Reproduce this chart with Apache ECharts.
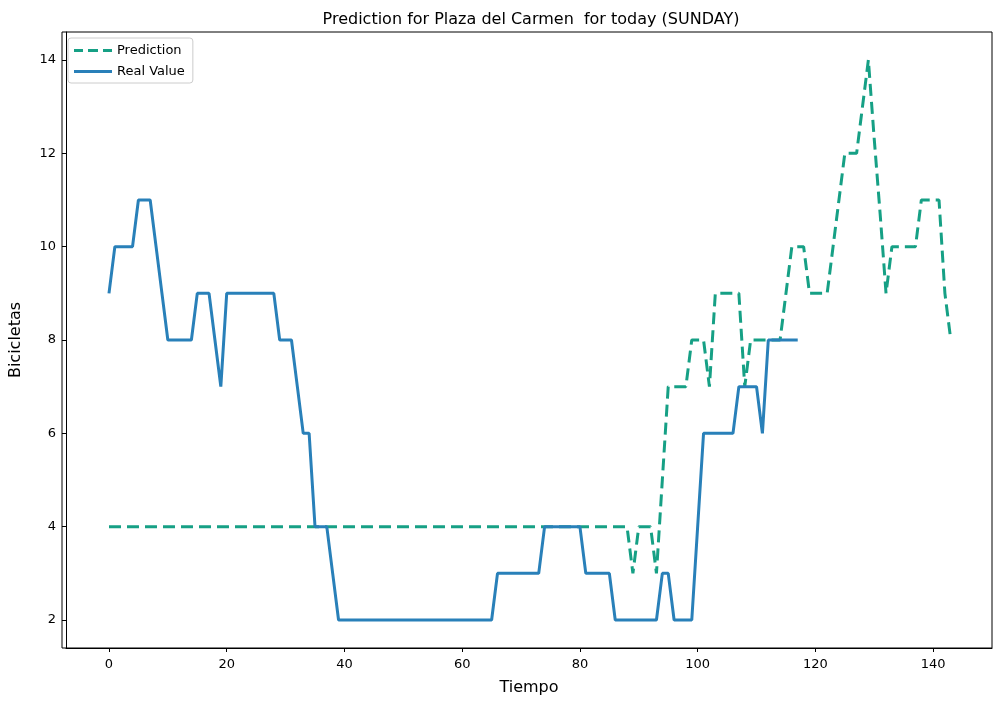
<!DOCTYPE html>
<html>
<head>
<meta charset="utf-8">
<script src="https://cdn.jsdelivr.net/npm/echarts@6/dist/echarts.min.js"></script>
<style>html,body{margin:0;padding:0;background:#fff;}#chart{width:1000px;height:705px;}</style>
</head>
<body>
<div id="chart"></div>
<script>
// Real values, index 0..117
const realValue = [
  9, 10, 10, 10, 10, 11, 11, 11, 10, 9,
  8, 8, 8, 8, 8, 9, 9, 9, 8, 7,
  9, 9, 9, 9, 9, 9, 9, 9, 9, 8,
  8, 8, 7, 6, 6, 4, 4, 4, 3, 2,
  2, 2, 2, 2, 2, 2, 2, 2, 2, 2,
  2, 2, 2, 2, 2, 2, 2, 2, 2, 2,
  2, 2, 2, 2, 2, 2, 3, 3, 3, 3,
  3, 3, 3, 3, 4, 4, 4, 4, 4, 4,
  4, 3, 3, 3, 3, 3, 2, 2, 2, 2,
  2, 2, 2, 2, 3, 3, 2, 2, 2, 2,
  4, 6, 6, 6, 6, 6, 6, 7, 7, 7,
  7, 6, 8, 8, 8, 8, 8, 8
];
// Prediction, index 0..143
const prediction = [];
for (let i = 0; i < 88; i++) prediction.push(4);
prediction.push(
  4, 3, 4, 4, 4, 3, 5, 7, 7, 7,        // 88-97
  7, 8, 8, 8, 7, 9, 9, 9, 9, 9,        // 98-107
  7, 8, 8, 8, 8, 8, 8, 9, 10, 10,      // 108-117
  10, 9, 9, 9, 9, 10, 11, 12, 12, 12,  // 118-127
  13, 14, 12.3, 10.7, 9, 10, 10, 10, 10, 10, // 128-137
  11, 11, 11, 11, 9, 8                 // 138-143
);
const xTicks = [0, 20, 40, 60, 80, 100, 120, 140];
const yTicks = [2, 4, 6, 8, 10, 12, 14];

const chart = echarts.init(document.getElementById('chart'));
const font = 'DejaVu Sans';
chart.setOption({
  animation: false,
  textStyle: { fontFamily: font },
  title: {
    text: 'Prediction for Plaza del Carmen  for today (SUNDAY)',
    left: 526, top: 7, textAlign: 'center',
    textStyle: { fontSize: 16, fontWeight: 'normal', color: '#000', fontFamily: font }
  },
  legend: {
    left: 68, top: 38, orient: 'vertical', itemGap: 8,
    itemWidth: 38, itemHeight: 3,
    padding: [6, 8, 5, 6],
    borderColor: '#ccc', borderWidth: 1, borderRadius: 3,
    textStyle: { fontSize: 13, color: '#000', fontFamily: font },
    data: [
      { name: 'Prediction', icon: 'path://M0,0h9v3h-9zM14,0h10v3h-10zM29,0h9v3h-9z',
        itemStyle: { color: '#16a085', opacity: 1 } },
      { name: 'Real Value', icon: 'rect', itemStyle: { color: '#2980b9' } }
    ]
  },
  grid: { left: 62, right: 8, top: 32, bottom: 57 },
  xAxis: {
    type: 'value', min: -7.3, max: 150.0,
    name: 'Tiempo', nameLocation: 'middle', nameGap: 32,
    nameTextStyle: { fontSize: 16, color: '#000' },
    axisLine: { show: true, onZero: false, lineStyle: { color: '#000', width: 1 } },
    axisTick: { show: true, customValues: xTicks, length: 4, lineStyle: { color: '#000' } },
    axisLabel: { customValues: xTicks, color: '#000', fontSize: 13, margin: 10 },
    splitLine: { show: false }
  },
  yAxis: {
    type: 'value', min: 1.4, max: 14.6,
    name: 'Bicicletas', nameLocation: 'middle', nameGap: 42,
    nameTextStyle: { fontSize: 16, color: '#000' },
    axisLine: { show: true, onZero: false, lineStyle: { color: '#000', width: 1 } },
    axisTick: { show: true, customValues: yTicks, length: 4, lineStyle: { color: '#000' } },
    axisLabel: { customValues: yTicks, color: '#000', fontSize: 13, margin: 10 },
    splitLine: { show: false }
  },
  series: [
    {
      name: 'Prediction', type: 'line', showSymbol: false, z: 2,
      data: prediction.map((v, i) => [i, v]),
      lineStyle: { color: '#16a085', width: 3, type: [12, 6] },
      itemStyle: { color: '#16a085' }
    },
    {
      name: 'Real Value', type: 'line', showSymbol: false, z: 3,
      data: realValue.map((v, i) => [i, v]),
      lineStyle: { color: '#2980b9', width: 3 },
      itemStyle: { color: '#2980b9' }
    }
  ],
  graphic: [{
    type: 'rect', z: 10, silent: true,
    shape: { x: 62, y: 32, width: 930, height: 616 },
    style: { fill: null, stroke: '#000', lineWidth: 1 }
  }]
});
</script>
</body>
</html>
